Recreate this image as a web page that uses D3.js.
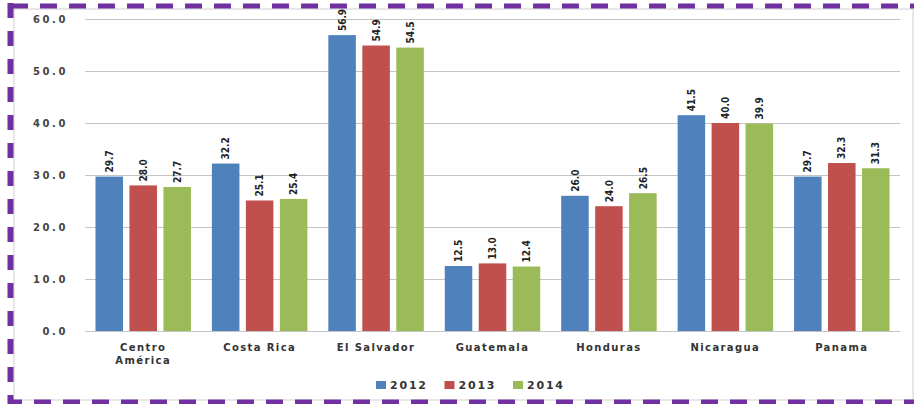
<!DOCTYPE html>
<html>
<head>
<meta charset="utf-8">
<script src="https://cdn.jsdelivr.net/npm/d3@7"></script>
<style>
  html, body { margin: 0; padding: 0; background: #fff; }
  svg { display: block; }
</style>
</head>
<body>
<svg id="chart"></svg>
<script>
// countries and yearly values
const categories = ["Centro\nAmérica", "Costa Rica", "El Salvador", "Guatemala", "Honduras", "Nicaragua", "Panama"];
const years = ["2012", "2013", "2014"];
const values2012 = [29.7, 32.2, 56.9, 12.5, 26.0, 41.5, 29.7];
const values2013 = [28.0, 25.1, 54.9, 13.0, 24.0, 40.0, 32.3];
const values2014 = [27.7, 25.4, 54.5, 12.4, 26.5, 39.9, 31.3];
const yTicks = [0, 10, 20, 30, 40, 50, 60];
const colors = ["#4f81bd", "#c0504d", "#9bbb59"];

const series = [values2012, values2013, values2014];
const bars = [];
categories.forEach((c, i) => years.forEach((yr, j) => bars.push({ name: c, year: yr, value: series[j][i] })));

const width = 914, height = 404;
const plot = { left: 85, right: 900, top: 19, bottom: 331 };

const svg = d3.select("#chart")
    .attr("width", width)
    .attr("height", height)
    .attr("viewBox", [0, 0, width, height]);

// outer frame with dashed purple edges
svg.append("rect")
    .attr("x", 14).attr("y", 9)
    .attr("width", 899).attr("height", 391)
    .attr("fill", "none")
    .attr("stroke", "#cfcfcf")
    .attr("stroke-width", 1);

const dash = svg.append("g")
    .attr("stroke", "#7030a0")
    .attr("fill", "none");
dash.append("line")
    .attr("x1", 11).attr("x2", 914).attr("y1", 6).attr("y2", 6)
    .attr("stroke-width", 5)
    .attr("stroke-dasharray", "17 12");
dash.append("line")
    .attr("x1", 11).attr("x2", 914).attr("y1", 402).attr("y2", 402)
    .attr("stroke-width", 5)
    .attr("stroke-dasharray", "17 12")
    .attr("stroke-dashoffset", 6);
dash.append("line")
    .attr("x1", 10.5).attr("x2", 10.5).attr("y1", 3).attr("y2", 404)
    .attr("stroke-width", 6)
    .attr("stroke-dasharray", "15 13");

const x0 = d3.scaleBand(categories, [plot.left, plot.right])
    .paddingInner(0.18)
    .paddingOuter(0.09);
const x1 = d3.scaleBand(years, [0, x0.bandwidth()])
    .paddingInner(0.19);
const y = d3.scaleLinear([0, 60], [plot.bottom, plot.top]);
const color = d3.scaleOrdinal(years, colors);

// y axis with gridlines
const yAxis = d3.axisLeft(y)
    .tickValues(yTicks)
    .tickFormat(d3.format(".1f"))
    .tickSize(0)
    .tickPadding(17);

svg.append("g")
    .attr("transform", `translate(${plot.left},0)`)
    .call(yAxis)
    .call(g => g.select(".domain").remove())
    .call(g => g.selectAll(".tick line").clone()
        .attr("x2", plot.right - plot.left)
        .attr("stroke", "#c4c4c4")
        .attr("stroke-width", 1.2))
    .call(g => g.selectAll(".tick text")
        .attr("fill", "#444")
        .attr("font-family", "DejaVu Sans")
        .attr("font-weight", "bold")
        .attr("font-size", 10)
        .attr("letter-spacing", 2.6));

// bars
const cx = d => x0(d.name) + x1(d.year) + x1.bandwidth() / 2;

svg.append("g")
    .selectAll("rect")
    .data(bars)
    .join("rect")
    .attr("x", d => x0(d.name) + x1(d.year))
    .attr("y", d => y(d.value))
    .attr("width", x1.bandwidth())
    .attr("height", d => y(0) - y(d.value))
    .attr("fill", d => color(d.year));

// value labels, read bottom to top above each bar
svg.append("g")
    .selectAll("text")
    .data(bars)
    .join("text")
    .attr("transform", d => `translate(${cx(d)},${y(d.value) - 4}) rotate(-90)`)
    .attr("dy", "0.36em")
    .attr("font-family", "DejaVu Sans Condensed")
    .attr("font-weight", "bold")
    .attr("font-size", 10)
    .attr("fill", "#222")
    .text(d => d.value.toFixed(1));

// category labels
const xl = svg.append("g")
    .selectAll("text")
    .data(categories)
    .join("text")
    .attr("x", d => x0(d) + x0.bandwidth() / 2)
    .attr("y", 351)
    .attr("text-anchor", "middle")
    .attr("font-family", "DejaVu Sans")
    .attr("font-weight", "bold")
    .attr("font-size", 10)
    .attr("letter-spacing", 1.4)
    .attr("fill", "#333");
xl.selectAll("tspan")
    .data(d => d.split("\n"))
    .join("tspan")
    .attr("x", function() { return d3.select(this.parentNode).attr("x"); })
    .attr("dy", (d, i) => i ? 13 : 0)
    .text(d => d);

// legend
const legend = svg.append("g")
    .attr("transform", "translate(376,385)")
    .selectAll("g")
    .data(years)
    .join("g")
    .attr("transform", (d, i) => `translate(${i * 68.5},0)`);
legend.append("rect")
    .attr("x", 0).attr("y", -4)
    .attr("width", 10).attr("height", 8)
    .attr("fill", d => color(d));
legend.append("text")
    .attr("x", 14)
    .attr("dy", "0.36em")
    .attr("font-family", "DejaVu Sans")
    .attr("font-weight", "bold")
    .attr("font-size", 11)
    .attr("letter-spacing", 1.8)
    .attr("fill", "#333")
    .text(d => d);
</script>
</body>
</html>
